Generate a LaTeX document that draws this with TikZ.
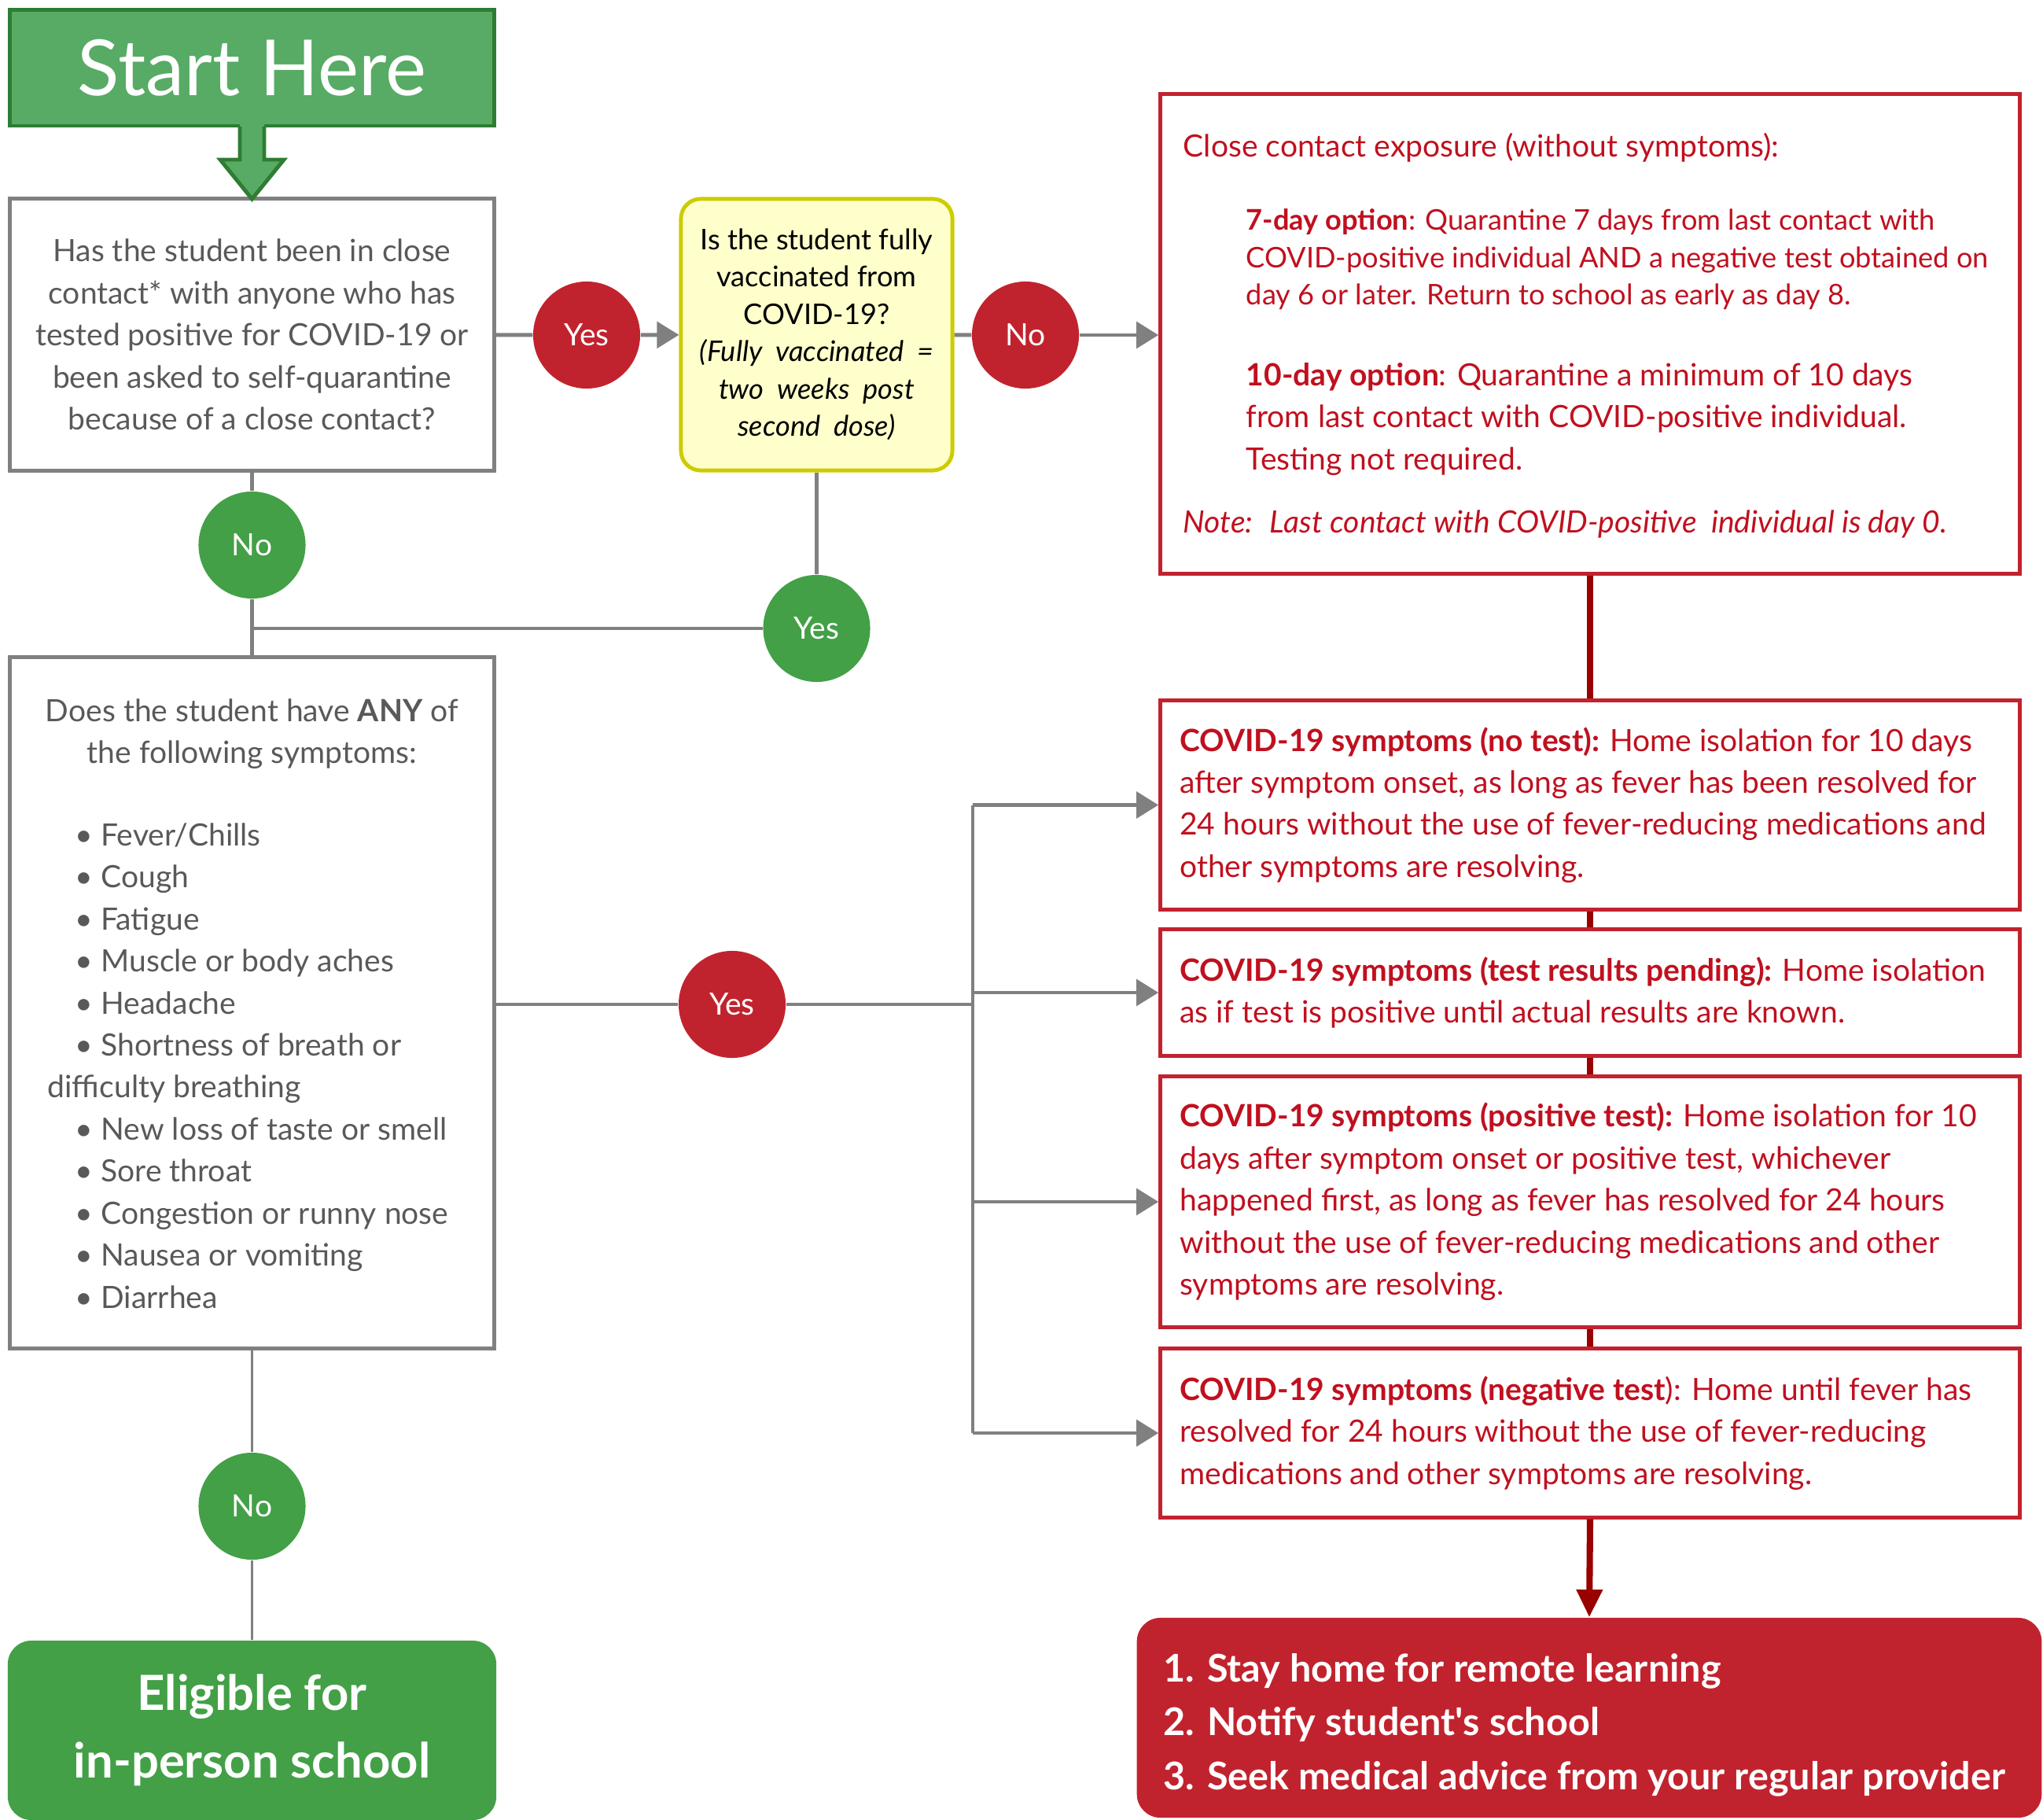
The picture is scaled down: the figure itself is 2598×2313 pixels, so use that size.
\documentclass[tikz,border=0pt]{standalone}
\usepackage{fontspec}
\setmainfont{Lato}
\usepackage{tikz}
\usetikzlibrary{
	positioning,
	arrows.meta
}

\definecolor{linegray}{HTML}{808080}
\definecolor{textgray}{HTML}{595959}
\definecolor{okgreen}{HTML}{43A047}
\definecolor{startgreen}{HTML}{57AB65}
\definecolor{startedge}{HTML}{2E7D32}
\definecolor{alertred}{HTML}{C1232E}
\definecolor{textred}{HTML}{C0101F}
\definecolor{darkred}{HTML}{990000}
\definecolor{paleyellow}{HTML}{FFFFCC}
\definecolor{yellowedge}{HTML}{CCCC00}

\newcommand{\txtsize}{\fontsize{11.1}{15.2}\selectfont}
\newcommand{\smallsize}{\fontsize{10.3}{13.5}\selectfont}
\newcommand{\actionsize}{\fontsize{13.8}{19.5}\selectfont}
\newcommand{\eligsize}{\fontsize{17.5}{24.6}\selectfont}
\newcommand{\startsize}{\fontsize{28}{32}\selectfont}

\begin{document}
\begin{tikzpicture}[x=0.01cm, y=-0.01cm, font=\txtsize,
		box/.style={draw=linegray, line width=1.4pt, fill=white},
		alertbox/.style={draw=alertred, line width=1.4pt, fill=white, minimum width=10.92cm},
		decision/.style={circle, minimum size=1.36cm, inner sep=0pt, text=white},
		line/.style={draw=linegray, line width=1.4pt},
		arr/.style={-{Triangle[length=8pt,width=9.5pt]}},
		chain/.style={draw=darkred, line width=2.3pt},
		redtext/.style={anchor=west, align=left, inner xsep=0pt, text=textred}
	]
		\useasboundingbox (0,0) rectangle (2598,2313);

		% left column
		\node[fill=startgreen, draw=startedge, line width=1.4pt, minimum width=6.15cm, minimum height=1.47cm, text=white, font=\startsize] (start) at (320.5,86.5) {Start Here};
		\node[box, minimum width=6.15cm, minimum height=3.45cm, align=center, text=textgray] (contact) at (320.5,425.5)
			{Has the student been in close\\contact* with anyone who has\\tested positive for COVID-19 or\\been asked to self-quarantine\\because of a close contact?};
		\node[box, minimum width=6.15cm, minimum height=8.78cm] (symptoms) at (320.5,1275) {};
		\node[align=center, text=textgray] (symq) at (320.5,933)
			{Does the student have \textbf{ANY} of\\the following symptoms:};
		\node[anchor=west, align=left, inner xsep=0pt, text=textgray] (symlist) at (60,1355)
			{\hspace*{10pt}\textbullet\ Fever/Chills\\
			\hspace*{10pt}\textbullet\ Cough\\
			\hspace*{10pt}\textbullet\ Fatigue\\
			\hspace*{10pt}\textbullet\ Muscle or body aches\\
			\hspace*{10pt}\textbullet\ Headache\\
			\hspace*{10pt}\textbullet\ Shortness of breath or\\
			difficulty breathing\\
			\hspace*{10pt}\textbullet\ New loss of taste or smell\\
			\hspace*{10pt}\textbullet\ Sore throat\\
			\hspace*{10pt}\textbullet\ Congestion or runny nose\\
			\hspace*{10pt}\textbullet\ Nausea or vomiting\\
			\hspace*{10pt}\textbullet\ Diarrhea};
		\node[fill=okgreen, rounded corners=0.3cm, minimum width=6.21cm, minimum height=2.28cm, align=center, text=white, font=\eligsize\bfseries] (eligible) at (320.5,2200)
			{Eligible for\\in-person school};

		% vaccination question
		\node[box, draw=yellowedge, fill=paleyellow, rounded corners=0.25cm, minimum width=3.45cm, minimum height=3.45cm, align=center, font=\smallsize] (vaccinated) at (1038.5,425.5)
			{Is the student fully\\vaccinated from\\COVID-19?\\\textit{(Fully \ vaccinated \ =}\\\textit{two \ weeks \ post}\\\textit{second \ dose)}};

		% circles
		\node[decision, fill=alertred] (yescontact) at (746,426) {Yes};
		\node[decision, fill=alertred] (novacc) at (1304,426) {No};
		\node[decision, fill=okgreen] (nocontact) at (320.5,693) {No};
		\node[decision, fill=okgreen] (yesvacc) at (1038.5,799) {Yes};
		\node[decision, fill=alertred] (yessym) at (931,1277) {Yes};
		\node[decision, fill=okgreen] (nosym) at (320.5,1915) {No};

		% right column
		\node[alertbox, minimum height=6.09cm] (exposure) at (2022,424.5) {};
		\node[redtext] (exphead) at (1504,188) {Close contact exposure (without symptoms):};
		\node[redtext, font=\smallsize] (sevenday) at (1584,330)
			{\textbf{7-day option}: Quarantine 7 days from last contact with\\COVID-positive individual AND a negative test obtained on\\day 6 or later. Return to school as early as day 8.};
		\node[redtext] (tenday) at (1584,533)
			{\textbf{10-day option}: Quarantine a minimum of 10 days\\from last contact with COVID-positive individual.\\Testing not required.};
		\node[redtext, font=\txtsize\itshape] (daynote) at (1504,666)
			{Note: \ Last contact with COVID-positive \ individual is day 0.};

		\node[alertbox, minimum height=2.65cm] (notest) at (2022,1023.5) {};
		\node[redtext] at ([xshift=7.5pt]notest.west)
			{\textbf{COVID-19 symptoms (no test):} Home isolation for 10 days\\after symptom onset, as long as fever has been resolved for\\24 hours without the use of fever-reducing medications and\\other symptoms are resolving.};
		\node[alertbox, minimum height=1.60cm] (pending) at (2022,1262) {};
		\node[redtext] at ([xshift=7.5pt]pending.west)
			{\textbf{COVID-19 symptoms (test results pending):} Home isolation\\as if test is positive until actual results are known.};
		\node[alertbox, minimum height=3.18cm] (postest) at (2022,1528) {};
		\node[redtext] at ([xshift=7.5pt]postest.west)
			{\textbf{COVID-19 symptoms (positive test):} Home isolation for 10\\days after symptom onset or positive test, whichever\\happened first, as long as fever has resolved for 24 hours\\without the use of fever-reducing medications and other\\symptoms are resolving.};
		\node[alertbox, minimum height=2.14cm] (negtest) at (2022,1822) {};
		\node[redtext] at ([xshift=7.5pt]negtest.west)
			{\textbf{COVID-19 symptoms (negative test}): Home until fever has\\resolved for 24 hours without the use of fever-reducing\\medications and other symptoms are resolving.};

		\node[fill=alertred, rounded corners=0.3cm, minimum width=11.5cm, minimum height=2.54cm] (action) at (2021,2184) {};
		\node[anchor=west, align=left, inner xsep=0pt, text=white, font=\actionsize\bfseries] (actions) at (1479,2193)
			{1. Stay home for remote learning\\2. Notify student\textquotesingle s school\\3. Seek medical advice from your regular provider};

		% start arrow
		\fill[startgreen] (305,150) -- (305,203) -- (280,203) -- (320.5,253) -- (361,203) -- (336,203) -- (336,150) -- cycle;
		\draw[startedge, line width=1.4pt] (305,161) -- (305,203) -- (280,203) -- (320.5,253) -- (361,203) -- (336,203) -- (336,161);

		% connectors
		\draw[line] (contact) -- (yescontact);
		\draw[line, arr] (yescontact) -- (vaccinated);
		\draw[line] (vaccinated) -- (novacc);
		\draw[line, arr] (novacc) -- (novacc -| exposure.west);
		\draw[line] (contact) -- (nocontact) -- (symptoms);
		\draw[line] (vaccinated) -- (yesvacc);
		\draw[line] (yesvacc) -- (yesvacc -| nocontact);
		\draw[line] (symptoms.east |- yessym) -- (yessym);
		\coordinate (bus) at (1237,1277);
		\draw[line] (yessym) -- (bus);
		\draw[line] (notest.west -| bus) -- (negtest.west -| bus);
		\foreach \b in {notest,pending,postest,negtest}
			\draw[line, arr] (\b.west -| bus) -- (\b.west);
		\draw[line, line width=1pt] (symptoms) -- (nosym) -- (eligible);

		\draw[chain] (exposure.south) -- (notest.north);
		\draw[chain] (notest.south) -- (pending.north);
		\draw[chain] (pending.south) -- (postest.north);
		\draw[chain] (postest.south) -- (negtest.north);
		\draw[chain, -{Triangle[length=10pt,width=9pt]}] (negtest.south) -- (action.north);
	\end{tikzpicture}
\end{document}
